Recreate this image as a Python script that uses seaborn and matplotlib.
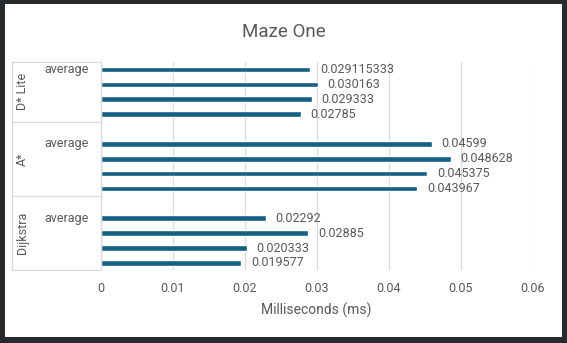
import matplotlib
matplotlib.use("Agg")
import matplotlib.pyplot as plt
import matplotlib.transforms as mtransforms
from matplotlib.patches import Rectangle
from matplotlib.lines import Line2D
import seaborn as sns
import pandas as pd

# ---- data -------------------------------------------------------------
groups = ["D* Lite", "A*", "Dijkstra"]
row_labels = ["average", "", "", ""]
dstar_lite = [0.029115333, 0.030163, 0.029333, 0.02785]
a_star = [0.04599, 0.048628, 0.045375, 0.043967]
dijkstra = [0.02292, 0.02885, 0.020333, 0.019577]
x_ticks = [0, 0.01, 0.02, 0.03, 0.04, 0.05, 0.06]
x_tick_labels = ["0", "0.01", "0.02", "0.03", "0.04", "0.05", "0.06"]
title = "Maze One"
x_title = "Milliseconds (ms)"

series = [dstar_lite, a_star, dijkstra]

# one row per bar, plus an empty spacer slot between algorithm groups
records = []
order = []
for g_idx, (grp, vals) in enumerate(zip(groups, series)):
    if g_idx > 0:
        order.append(f"spacer{g_idx}")
    for r_idx, v in enumerate(vals):
        key = f"{grp}|{r_idx}"
        order.append(key)
        records.append({"row": key, "ms": v})
df = pd.DataFrame(records)

# ---- style ------------------------------------------------------------
sns.set_style("white")
plt.rcParams["font.family"] = ["Roboto", "DejaVu Sans"]
TEXT = "#595959"
GRID = "#d9d9d9"
BAR = "#156082"

W, H = 567, 343
fig = plt.figure(figsize=(W / 100, H / 100), dpi=100)
fig.patch.set_facecolor("#262a2c")
fig.patches.append(Rectangle((5 / W, 6 / H), 557 / W, 333 / H,
                             transform=fig.transFigure, facecolor="white",
                             edgecolor="none", zorder=-10))

ax_left, ax_right, ax_top, ax_bot = 100.5, 532.5, 62.0, 270.4
ax = fig.add_axes([ax_left / W, 1 - ax_bot / H,
                   (ax_right - ax_left) / W, (ax_bot - ax_top) / H])
ax.set_facecolor("none")

sns.barplot(data=df, x="ms", y="row", order=order, orient="h",
            color=BAR, saturation=1, width=0.38, errorbar=None, ax=ax)

ax.set_xlim(0, 0.06)
ax.set_ylim(len(order) - 0.5, -0.5)
ax.set_xticks(x_ticks)
ax.set_xticklabels(x_tick_labels)
ax.set_yticks([])
ax.set_xlabel("")
ax.set_ylabel("")
ax.tick_params(axis="x", length=0, pad=8.5, labelsize=9, labelcolor=TEXT)
ax.grid(axis="x", color=GRID, linewidth=0.9)
ax.set_axisbelow(True)
for side in ["top", "right", "bottom"]:
    ax.spines[side].set_visible(False)
ax.spines["left"].set_color(GRID)
ax.spines["left"].set_linewidth(0.9)

# value labels at the end of each bar
for cont in ax.containers:
    ax.bar_label(cont, fmt=lambda v: str(v), padding=7, fontsize=9, color=TEXT)

# multi-level category labels on the left
blend = mtransforms.blended_transform_factory(fig.transFigure, ax.transData)
box_left = 12 / W
box_right = ax_left / W
bounds = [-0.5]
pos = 0
for g_idx, (grp, vals) in enumerate(zip(groups, series)):
    start = pos
    if g_idx > 0:
        pos += 1  # spacer slot
    first_bar = pos
    for r_idx, lab in enumerate(row_labels):
        if lab:
            ax.text(67 / W, first_bar + r_idx, lab, transform=blend,
                    ha="center", va="center", fontsize=9, color=TEXT)
    pos += len(vals)
    bounds.append(pos - 0.5)
    center = (start - 0.5 + pos - 0.5) / 2
    ax.text(22 / W, center, grp, transform=blend, rotation=90,
            ha="center", va="center", fontsize=9, color=TEXT)

for b in bounds:
    ax.add_line(Line2D([box_left, box_right], [b, b], transform=blend,
                       color=GRID, linewidth=0.9, clip_on=False))
ax.add_line(Line2D([box_left, box_left], [bounds[0], bounds[-1]],
                   transform=blend, color=GRID, linewidth=0.9, clip_on=False))

fig.text(283.5 / W, 1 - 31.7 / H, title, ha="center", va="center",
         fontsize=13.5, color=TEXT)
fig.text(316 / W, 1 - 310.7 / H, x_title, ha="center", va="center",
         fontsize=10, color=TEXT)

fig.savefig("out.png", dpi=100, facecolor=fig.get_facecolor())
